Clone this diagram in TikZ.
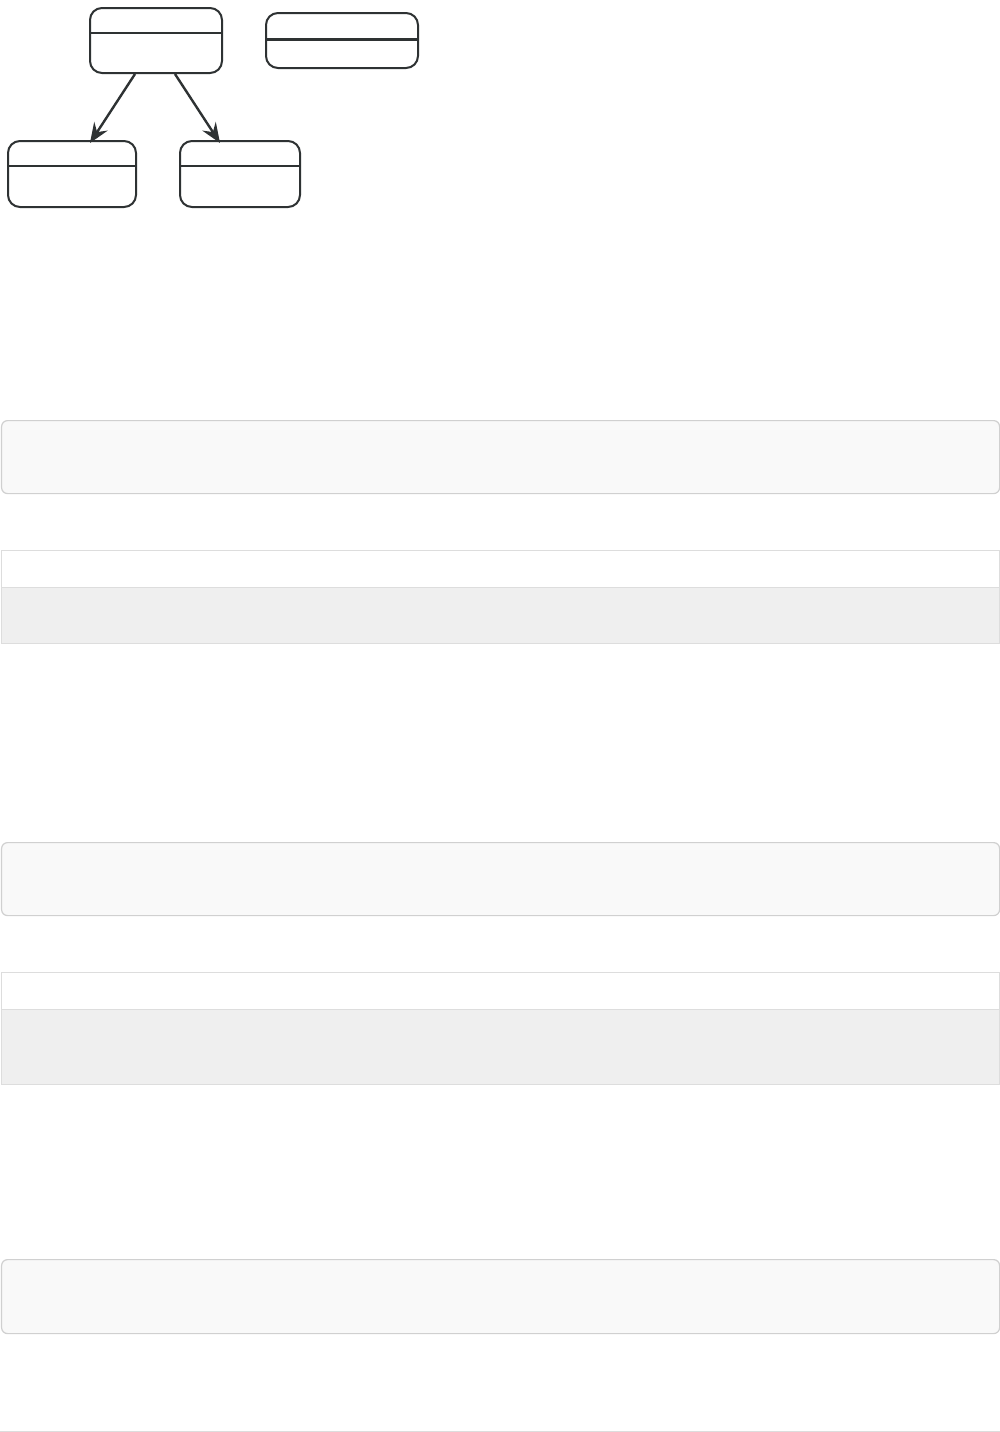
\documentclass[tikz,border=0pt]{standalone}
\usetikzlibrary{arrows.meta,calc}
\definecolor{ink}{HTML}{2E3233}
\definecolor{panelfill}{HTML}{F9F9F9}
\definecolor{panelline}{HTML}{D0D0D0}
\definecolor{rowfill}{HTML}{EFEFEF}
\definecolor{rowline}{HTML}{DDDDDD}
\begin{document}
\begin{tikzpicture}[x=1pt,y=-1pt,
  statebox/.style={draw=ink,line width=2pt,rounded corners=12pt,fill=white,inner sep=0pt,anchor=north west},
  divider/.style={draw=ink,line width=1.6pt},
  flow/.style={draw=ink,line width=2.4pt,-{Stealth[length=20pt,width=16pt,inset=7pt]}},
  panel/.style={draw=panelline,line width=1.2pt,fill=panelfill,rounded corners=6pt,inner sep=0pt,anchor=north west,minimum width=998pt},
  headrow/.style={draw=rowline,line width=1pt,fill=white,inner sep=0pt,anchor=north west,minimum width=998pt},
  bodyrow/.style={draw=rowline,line width=1pt,fill=rowfill,inner sep=0pt,anchor=north west,minimum width=998pt}]
\useasboundingbox (0,0) rectangle (1000,1432);
\fill[white] (0,0) rectangle (1000,1432);
% states
\node[statebox,minimum width=132pt,minimum height=65pt] (A) at (89,7) {};
\node[statebox,minimum width=152pt,minimum height=55pt] (B) at (265,12) {};
\node[statebox,minimum width=128pt,minimum height=66pt] (C) at (7,140) {};
\node[statebox,minimum width=120pt,minimum height=66pt] (D) at (179,140) {};
\draw[divider] ($(A.north west)+(0,26)$) -- ($(A.north east)+(0,26)$);
\draw[divider,line width=3pt] ($(B.north west)+(0,27)$) -- ($(B.north east)+(0,27)$);
\draw[divider] ($(C.north west)+(0,26)$) -- ($(C.north east)+(0,26)$);
\draw[divider] ($(D.north west)+(0,26)$) -- ($(D.north east)+(0,26)$);
\draw[flow] ($(A.south west)+(46,0)$) -- ($(C.north west)+(83,3)$);
\draw[flow] ($(A.south west)+(86,0)$) -- ($(D.north west)+(41,3)$);
% panels and tables
\node[panel,minimum height=73pt] (P1) at (1,420) {};
\node[headrow,minimum height=37pt] (T1h) at (1,550) {};
\node[bodyrow,minimum height=56pt] (T1b) at (1,587) {};
\node[panel,minimum height=73pt] (P2) at (1,842) {};
\node[headrow,minimum height=37pt] (T2h) at (1,972) {};
\node[bodyrow,minimum height=75pt] (T2b) at (1,1009) {};
\node[panel,minimum height=74pt] (P3) at (1,1259) {};
\coordinate (L1) at (0,1431);
\coordinate (L2) at (1000,1431);
\draw[rowline,line width=1pt] (L1) -- (L2);
\end{tikzpicture}
\end{document}
